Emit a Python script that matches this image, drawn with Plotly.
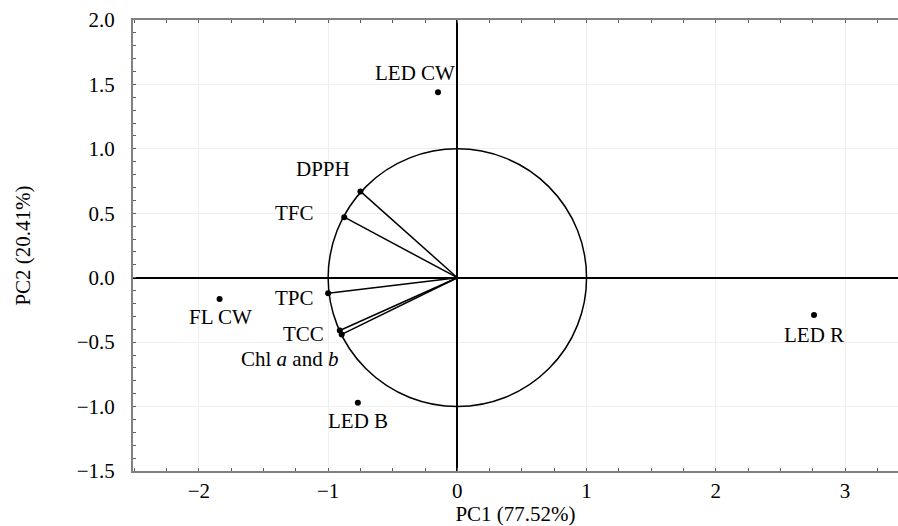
import plotly.graph_objects as go

# Sample scores
samples = ["LED CW", "FL CW", "LED R", "LED B"]
score_pc1 = [-0.15, -1.84, 2.76, -0.77]
score_pc2 = [1.44, -0.165, -0.29, -0.97]

# Variable loadings
variables = ["DPPH", "TFC", "TPC", "TCC", "Chl <i>a</i> and <i>b</i>"]
load_pc1 = [-0.75, -0.875, -1.0, -0.91, -0.895]
load_pc2 = [0.67, 0.47, -0.12, -0.41, -0.44]

x_ticks = [-2, -1, 0, 1, 2, 3]
y_ticks = [-1.5, -1.0, -0.5, 0.0, 0.5, 1.0, 1.5, 2.0]
y_tick_text = ["\u22121.5", "\u22121.0", "\u22120.5", "0.0", "0.5", "1.0", "1.5", "2.0"]
x_tick_text = ["\u22122", "\u22121", "0", "1", "2", "3"]

FONT = "Liberation Serif"
fig = go.Figure()

# loading vectors
for lx, ly in zip(load_pc1, load_pc2):
    fig.add_trace(go.Scatter(x=[0, lx], y=[0, ly], mode="lines",
                             line=dict(color="black", width=1.5),
                             showlegend=False, hoverinfo="skip"))

fig.add_trace(go.Scatter(x=load_pc1, y=load_pc2, mode="markers",
                         marker=dict(color="black", size=6), showlegend=False))
fig.add_trace(go.Scatter(x=score_pc1, y=score_pc2, mode="markers",
                         marker=dict(color="black", size=6), showlegend=False))

# unit circle
fig.add_shape(type="circle", xref="x", yref="y", x0=-1, y0=-1, x1=1, y1=1,
              line=dict(color="black", width=1.5), layer="above")

# sample labels (offsets in px)
sample_shift = [(-23, 19), (1, -18), (0, -20), (0, -18)]
for name, sx, sy, (dx, dy) in zip(samples, score_pc1, score_pc2, sample_shift):
    fig.add_annotation(x=sx, y=sy, text=name, showarrow=False, xshift=dx, yshift=dy,
                       font=dict(family=FONT, size=21, color="black"))

var_shift = [(-8, 22), (-28, 4), (-12, -5), (-14, -3), (-2, -25)]
for name, lx, ly, (dx, dy) in zip(variables, load_pc1, load_pc2, var_shift):
    fig.add_annotation(x=lx, y=ly, text=name, showarrow=False, xshift=dx, yshift=dy,
                       xanchor="right", font=dict(family=FONT, size=21, color="black"))

axis_common = dict(
    showline=True, linecolor="#808080", linewidth=2,
    ticks="inside", ticklen=3, tickcolor="#606060",
    showgrid=True, gridcolor="#efefef", gridwidth=1,
    zeroline=True, zerolinecolor="black", zerolinewidth=2,
    tickfont=dict(family=FONT, size=21, color="black"),
    automargin=False,
)

fig.update_xaxes(range=[-2.51, 3.41], tickvals=x_ticks, ticktext=x_tick_text,
                 mirror="ticks",
                 minor=dict(dtick=0.25, ticks="inside", ticklen=3, tickcolor="#606060", showgrid=False),
                 title=dict(text="PC1 (77.52%)", font=dict(family=FONT, size=21, color="black"), standoff=2),
                 ticklabelstandoff=0,
                 **axis_common)
fig.update_yaxes(range=[-1.5, 2.0], tickvals=y_ticks, ticktext=y_tick_text,
                 mirror=False,
                 minor=dict(dtick=0.1, ticks="inside", ticklen=3, tickcolor="#606060", showgrid=False),
                 title=dict(text="PC2 (20.41%)", font=dict(family=FONT, size=21, color="black"), standoff=40),
                 ticklabelstandoff=12,
                 **axis_common)

fig.update_layout(
    width=898, height=526,
    margin=dict(l=133, r=0, t=20, b=55, autoexpand=False),
    paper_bgcolor="white", plot_bgcolor="white",
    font=dict(family=FONT, color="black"),
    showlegend=False,
)

fig.write_html("out.html", config={"displayModeBar": False},
               post_script="document.body.style.margin='0';document.body.style.overflow='hidden';")
